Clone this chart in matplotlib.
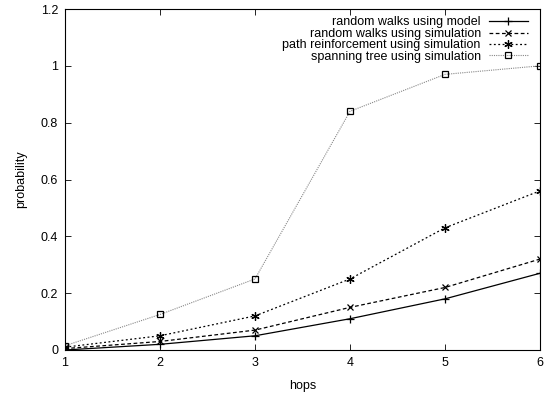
import matplotlib
matplotlib.use("Agg")
import matplotlib.pyplot as plt

plt.rcParams['font.family'] = ['Liberation Sans', 'DejaVu Sans']

hops = [1, 2, 3, 4, 5, 6]
rw_model = [0.0, 0.02, 0.05, 0.11, 0.18, 0.27]
rw_sim = [0.005, 0.03, 0.07, 0.15, 0.22, 0.32]
path_sim = [0.01, 0.05, 0.12, 0.25, 0.43, 0.56]
tree_sim = [0.015, 0.125, 0.25, 0.84, 0.97, 1.0]

labels = ['random walks using model', 'random walks using simulation',
          'path reinforcement using simulation', 'spanning tree using simulation']

fig = plt.figure(figsize=(5.46, 3.96), dpi=100)
ax = fig.add_axes([65 / 546, 1 - 350 / 396, (540 - 65) / 546, (350 - 9) / 396])

ax.plot(hops, rw_model, color='black', linewidth=0.9, linestyle='-',
        marker='+', markersize=6, markeredgewidth=0.9, label=labels[0])
ax.plot(hops, rw_sim, color='black', linewidth=0.9, linestyle=(0, (3, 2)),
        marker='x', markersize=5, markeredgewidth=0.9, label=labels[1])
ax.plot(hops, path_sim, color='black', linewidth=0.9, linestyle=(0, (1.5, 2)),
        marker=(6, 2, 0), markersize=6, markeredgewidth=0.9, label=labels[2])
ax.plot(hops, tree_sim, color='#888888', linewidth=0.8, linestyle=(0, (1, 1)),
        marker='s', markersize=5, markerfacecolor='none', markeredgecolor='black',
        markeredgewidth=0.9, label=labels[3])

ax.set_xlim(1, 6)
ax.set_ylim(0, 1.2)
ax.set_xticks(hops)
ax.set_yticks([0, 0.2, 0.4, 0.6, 0.8, 1, 1.2])
ax.set_yticklabels(['0', '0.2', '0.4', '0.6', '0.8', '1', '1.2'])
ax.tick_params(direction='in', top=True, right=True, labelsize=9, length=4,
               width=0.6, pad=5)
for s in ax.spines.values():
    s.set_linewidth(0.8)

ax.set_xlabel('hops', fontsize=9, labelpad=8)
ax.set_ylabel('probability', fontsize=9, labelpad=10)

leg = ax.legend(loc='upper right', fontsize=9, frameon=False, markerfirst=False,
                handlelength=3.1, labelspacing=-0.05, borderaxespad=0.3,
                handletextpad=0.65, borderpad=0.3,
                bbox_to_anchor=(0.99, 1.0))
for t in leg.get_texts():
    t.set_ha('right')
leg._legend_box.align = 'right'

fig.savefig('out.png', dpi=100)
